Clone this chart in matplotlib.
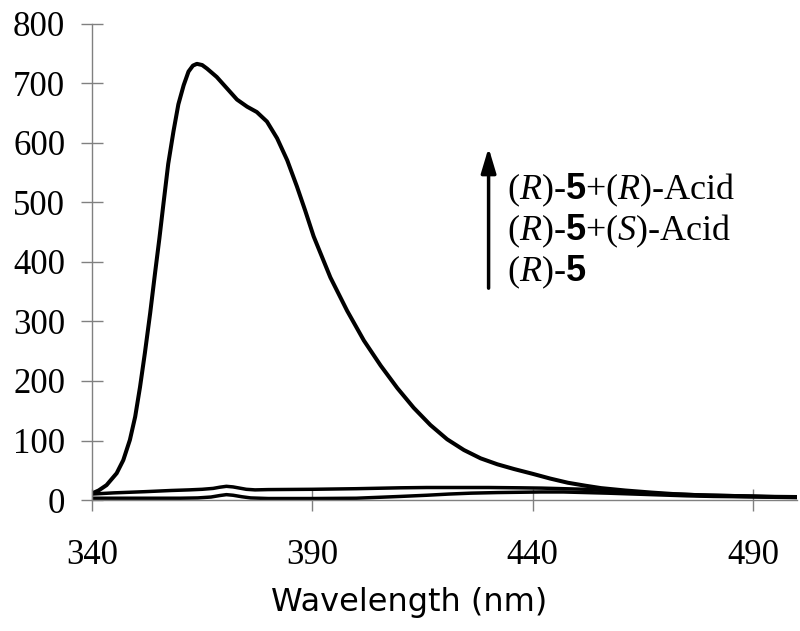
import numpy as np
import matplotlib
matplotlib.use("Agg")
import matplotlib.pyplot as plt

# emission spectra
wl_rr = [340, 341.5, 343.3, 345.6, 347.1, 348.6, 349.8, 350.9, 352, 353.2, 354.3,
         355.3, 356.2, 357.3, 358.5, 359.6, 360.8, 361.9, 362.9, 363.8, 365,
         366.1, 368.3, 370.6, 372.9, 375.2, 377.4, 379.7, 382, 384.3, 386.5,
         388.4, 390.3, 394.1, 397.9, 401.7, 405.5, 409.3, 413, 416.8, 420.6,
         424.4, 428.2, 432, 435.8, 440, 444, 448, 452, 455.5, 461, 467, 472,
         478, 484, 490, 495, 500]
int_rr = [11, 16, 25, 45, 67, 101, 140, 190, 247, 314, 381,
          440, 497, 565, 620, 665, 697, 720, 730, 733, 731,
          725, 711, 692, 673, 661, 652, 636, 608, 571, 527,
          486, 443, 374, 318, 268, 226, 188, 155, 126, 102,
          84, 70, 60, 52, 44, 36, 29, 24, 20, 16, 12.5, 10,
          8, 7, 6, 5, 4.5]

wl_rs = [340, 345, 352, 358, 362, 365, 367.5, 369, 370.5, 372, 373.5, 375,
         377, 380, 390, 400, 410, 416, 423, 430, 437, 442, 447, 452, 457,
         463, 468, 474, 480, 487, 493, 500]
int_rs = [10, 12, 14, 16, 17, 18, 19.5, 21.5, 23, 22, 20, 18,
          17, 17.5, 18, 19, 20.5, 21, 21, 21, 20.5, 20, 19, 18, 15.5,
          13, 11, 9.5, 8, 7, 6, 5.5]

wl_r = [340, 350, 360, 364, 367, 369, 370.5, 372, 374, 376, 380, 390, 400,
        405, 410, 416, 421, 426, 432, 437, 442, 447, 452, 457, 463, 469,
        475, 481, 487, 493, 500]
int_r = [3, 3, 3, 3.5, 5, 7.5, 9, 8, 5.5, 3.5, 2.5, 2.5, 3,
         4.5, 6, 8, 10, 11.5, 12.5, 13, 13.5, 13.5, 12.5, 11.5, 10, 8.5,
         7, 6, 5.5, 5, 4.5]

x_ticks = [340, 390, 440, 490]
y_ticks = [0, 100, 200, 300, 400, 500, 600, 700, 800]

plt.rcParams["mathtext.fontset"] = "custom"
plt.rcParams["mathtext.rm"] = "Liberation Serif"
plt.rcParams["mathtext.it"] = "Liberation Serif:italic"
plt.rcParams["mathtext.bf"] = "Liberation Sans:bold"

fig = plt.figure(figsize=(8, 6.31), dpi=100)
ax = fig.add_axes([0.115, 0.2076, 0.8813, 0.7544])

ax.plot(wl_r, int_r, color="black", lw=2.5, solid_joinstyle="round")
ax.plot(wl_rs, int_rs, color="black", lw=2.5, solid_joinstyle="round")
ax.plot(wl_rr, int_rr, color="black", lw=2.9, solid_joinstyle="round")

ax.set_xlim(340, 500)
ax.set_ylim(0, 800)
ax.set_xticks(x_ticks)
ax.set_yticks(y_ticks)

for s in ["top", "right"]:
    ax.spines[s].set_visible(False)
for s in ["left", "bottom"]:
    ax.spines[s].set_color("#808080")
    ax.spines[s].set_linewidth(1)

ax.tick_params(direction="inout", length=16.5, width=1, color="#808080",
               labelsize=25, labelcolor="black")
ax.tick_params(axis="y", pad=11)
ax.tick_params(axis="x", pad=20)
for lab in ax.get_xticklabels() + ax.get_yticklabels():
    lab.set_fontfamily("Liberation Serif")

fig.text(0.511, 1 - 603 / 631, "Wavelength (nm)", ha="center", va="center",
         fontsize=23, family="DejaVu Sans")

# arrow + labels
ax.annotate("", xy=(430, 592), xytext=(430, 356),
            arrowprops=dict(arrowstyle="-|>,head_length=1.5,head_width=0.45",
                            color="black", lw=2.5, shrinkA=0, shrinkB=0))
labels = [r"($R$)-$\mathbf{5}$+($R$)-Acid",
          r"($R$)-$\mathbf{5}$+($S$)-Acid",
          r"($R$)-$\mathbf{5}$"]
for i, t in enumerate(labels):
    ax.text(434.2, 505 - i * 69, t, fontsize=26, family="Liberation Serif",
            ha="left", va="baseline")

fig.savefig("out.png", dpi=100)
